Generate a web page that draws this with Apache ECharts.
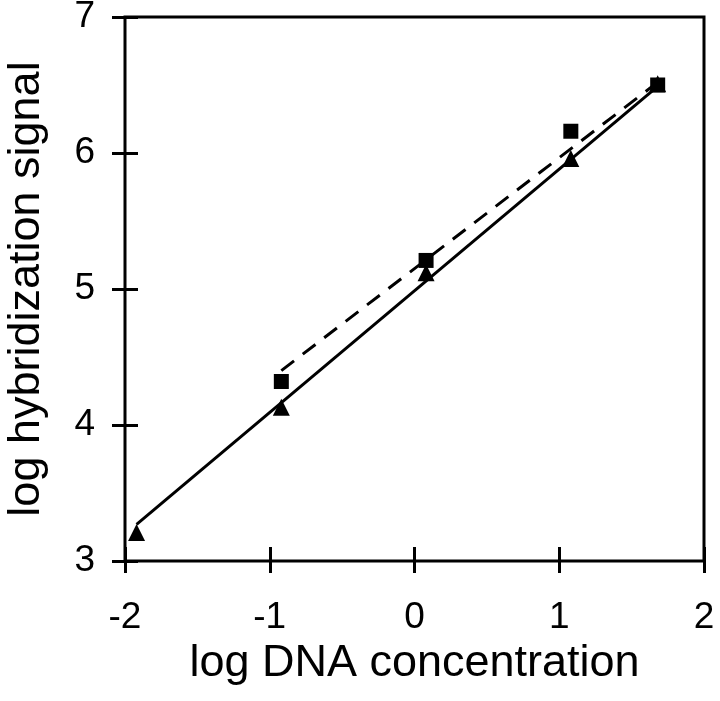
<!DOCTYPE html>
<html>
<head>
<meta charset="utf-8">
<script src="https://cdn.jsdelivr.net/npm/echarts@6/dist/echarts.min.js"></script>
<style>
  html, body { margin: 0; padding: 0; background: #fff; }
  #main { width: 720px; height: 701px; }
</style>
</head>
<body>
<div id="main"></div>
<script>
// values
var xTicks = [-2, -1, 0, 1, 2];
var yTicks = [3, 4, 5, 6, 7];

var triX = [-1.92, -0.92, 0.08, 1.08, 1.68];
var triY = [3.21, 4.13, 5.12, 5.96, 6.51];

var sqX = [-0.92, 0.08, 1.08, 1.68];
var sqY = [4.32, 5.21, 6.16, 6.50];

// regression lines (end points)
var solidFitX = [-1.92, 1.68];
var solidFitY = [3.27, 6.49];
var dashFitX = [-0.92, 1.68];
var dashFitY = [4.40, 6.52];

function pairs(xs, ys) {
    return xs.map(function (x, i) { return [x, ys[i]]; });
}

var font = 'Liberation Sans, Arial, sans-serif';
var black = '#000';

var myChart = echarts.init(document.getElementById('main'));

var option = {
    backgroundColor: '#fff',
    animation: false,
    grid: {
        left: 125, right: 16, top: 17, bottom: 140,
        outerBoundsMode: 'none',
        containLabel: false,
        show: true, borderColor: black, borderWidth: 3
    },
    xAxis: [
        {
            type: 'value', position: 'bottom',
            min: xTicks[0], max: xTicks[xTicks.length - 1], interval: 1,
            axisLine: { show: false, onZero: false },
            axisTick: { show: true, inside: true, length: 14, lineStyle: { color: black, width: 3 } },
            splitLine: { show: false },
            axisLabel: { margin: 38, fontSize: 37, color: black, fontFamily: font },
            name: 'log DNA concentration',
            nameLocation: 'middle',
            nameGap: 77,
            nameTextStyle: { fontSize: 45, color: black, fontFamily: font }
        },
        {
            type: 'value', position: 'bottom',
            min: xTicks[0], max: xTicks[xTicks.length - 1], interval: 1,
            axisLine: { show: false, onZero: false },
            axisTick: { show: true, inside: false, length: 12, lineStyle: { color: black, width: 3 } },
            splitLine: { show: false },
            axisLabel: { show: false }
        }
    ],
    yAxis: [
        {
            type: 'value', position: 'left',
            min: yTicks[0], max: yTicks[yTicks.length - 1], interval: 1,
            axisLine: { show: false, onZero: false },
            axisTick: { show: true, inside: true, length: 13, lineStyle: { color: black, width: 3 } },
            splitLine: { show: false },
            axisLabel: { margin: 30, fontSize: 37, color: black, fontFamily: font },
            name: 'log hybridization signal',
            nameLocation: 'middle',
            nameGap: 76,
            nameRotate: 90,
            nameTextStyle: { fontSize: 45, color: black, fontFamily: font }
        },
        {
            type: 'value', position: 'left',
            min: yTicks[0], max: yTicks[yTicks.length - 1], interval: 1,
            axisLine: { show: false, onZero: false },
            axisTick: { show: true, inside: false, length: 13, lineStyle: { color: black, width: 3 } },
            splitLine: { show: false },
            axisLabel: { show: false }
        }
    ],
    series: [
        {
            name: 'fit triangles', type: 'line',
            data: pairs(solidFitX, solidFitY),
            showSymbol: false, z: 2,
            lineStyle: { color: black, width: 3, type: 'solid' }
        },
        {
            name: 'fit squares', type: 'line',
            data: pairs(dashFitX, dashFitY),
            showSymbol: false, z: 2,
            lineStyle: { color: black, width: 3, type: [16, 11] }
        },
        {
            name: 'triangles', type: 'scatter',
            data: pairs(triX, triY),
            symbol: 'triangle', symbolSize: 17, z: 3,
            itemStyle: { color: black, opacity: 1 }
        },
        {
            name: 'squares', type: 'scatter',
            data: pairs(sqX, sqY),
            symbol: 'rect', symbolSize: 15, z: 4,
            itemStyle: { color: black, opacity: 1 }
        }
    ]
};

myChart.setOption(option);
window.onresize = function () {
    myChart.resize();
};
</script>
</body>
</html>
